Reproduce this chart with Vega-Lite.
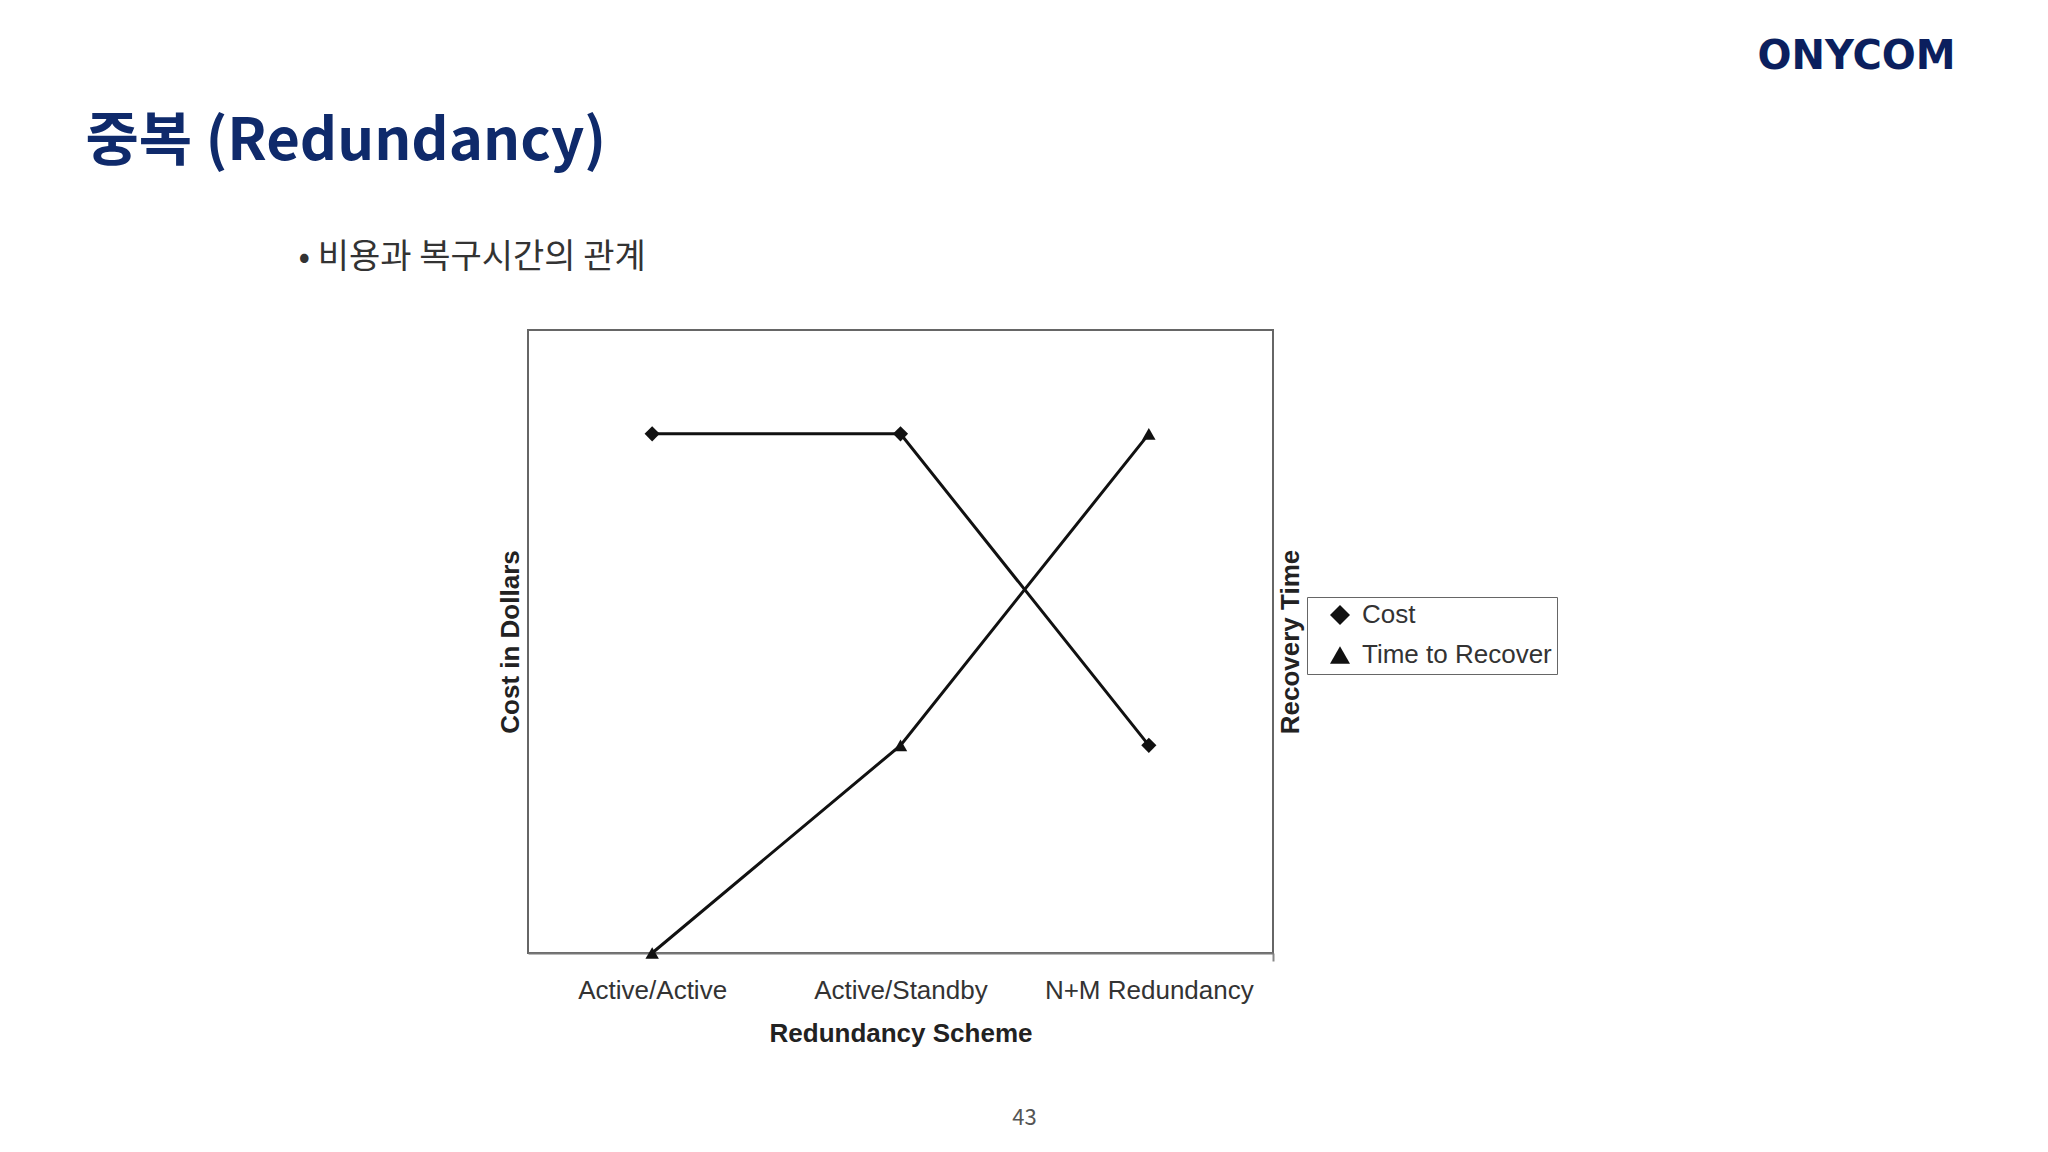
{
  "$schema": "https://vega.github.io/schema/vega-lite/v6.json",
  "width": 745,
  "height": 623,
  "autosize": {"type": "none"},
  "padding": {"left": 528, "top": 330, "right": 775, "bottom": 199},
  "background": "#ffffff",
  "config": {
    "view": {"stroke": "#666666", "strokeWidth": 2},
    "axis": {"grid": false},
    "legend": {
      "orient": "none",
      "legendX": 779,
      "legendY": 267,
      "labelFont": "Liberation Sans",
      "labelFontSize": 26,
      "labelColor": "#333333",
      "labelLimit": 400,
      "labelOffset": 9,
      "strokeColor": "#666666",
      "padding": 5,
      "symbolOffset": 15,
      "rowPadding": 11,
      "symbolSize": 400,
      "symbolStrokeWidth": 2.5,
      "symbolStrokeColor": "#111111",
      "symbolFillColor": "#111111",
      "symbolOpacity": 1
    }
  },
  "data": {
    "values": [
      {"scheme": "Active/Active", "series": "Cost", "value": 5},
      {"scheme": "Active/Standby", "series": "Cost", "value": 5},
      {"scheme": "N+M Redundancy", "series": "Cost", "value": 2},
      {"scheme": "Active/Active", "series": "Time to Recover", "value": 0},
      {"scheme": "Active/Standby", "series": "Time to Recover", "value": 2},
      {"scheme": "N+M Redundancy", "series": "Time to Recover", "value": 5}
    ]
  },
  "resolve": {"axis": {"x": "independent", "y": "independent"}},
  "layer": [
    {
      "transform": [{"filter": "datum.series === 'Cost'"}],
      "mark": {"type": "line", "color": "#111111", "strokeWidth": 3},
      "encoding": {
        "x": {
          "field": "scheme", "type": "nominal",
          "sort": ["Active/Active", "Active/Standby", "N+M Redundancy"],
          "scale": {"type": "band", "paddingInner": 0, "paddingOuter": 0},
          "axis": {
            "orient": "bottom",
            "title": "Redundancy Scheme",
            "labelAngle": 0,
            "labelLimit": 400,
            "labelFont": "Liberation Sans",
            "labelFontSize": 26,
            "labelColor": "#333333",
            "labelPadding": 16,
            "tickSize": 8,
            "tickColor": "#888888",
            "tickWidth": 2,
            "tickBand": "extent",
            "tickOpacity": {"condition": {"test": "datum.value === 'N+M Redundancy'", "value": 1}, "value": 0},
            "domainColor": "#777777",
            "domainWidth": 2,
            "titleFont": "Liberation Sans",
            "titleFontSize": 26,
            "titleFontWeight": "bold",
            "titleColor": "#222222",
            "titlePadding": 17
          }
        },
        "y": {
          "field": "value", "type": "quantitative",
          "scale": {"domain": [0, 6], "nice": false},
          "axis": {
            "orient": "left",
            "title": "Cost in Dollars",
            "labels": false, "ticks": false, "domain": false,
            "titleFont": "Liberation Sans",
            "titleFontSize": 26,
            "titleFontWeight": "bold",
            "titleColor": "#222222",
            "titlePadding": 5
          }
        }
      }
    },
    {
      "transform": [{"filter": "datum.series === 'Time to Recover'"}],
      "mark": {"type": "line", "color": "#111111", "strokeWidth": 3},
      "encoding": {
        "x": {
          "field": "scheme", "type": "nominal",
          "sort": ["Active/Active", "Active/Standby", "N+M Redundancy"],
          "axis": {
            "orient": "top",
            "labels": false, "ticks": false, "domain": false,
            "title": "ONYCOM",
            "titleX": 1328, "titleY": -274,
            "titleAlign": "center", "titleBaseline": "middle",
            "titleFont": "DejaVu Sans", "titleFontSize": 40, "titleFontWeight": "bold",
            "titleColor": "#0b1f5e"
          }
        },
        "y": {
          "field": "value", "type": "quantitative",
          "axis": {
            "orient": "right",
            "title": "Recovery Time",
            "labels": false, "ticks": false, "domain": false,
            "titleAngle": 270,
            "titleBaseline": "top",
            "titleFont": "Liberation Sans",
            "titleFontSize": 26,
            "titleFontWeight": "bold",
            "titleColor": "#222222",
            "titlePadding": 4
          }
        }
      }
    },
    {
      "transform": [{"filter": "datum.series === 'Cost'"}],
      "mark": {"type": "point", "filled": true, "color": "#111111", "opacity": 1, "size": 230},
      "encoding": {
        "x": {
          "field": "scheme", "type": "nominal",
          "sort": ["Active/Active", "Active/Standby", "N+M Redundancy"],
          "axis": {
            "orient": "bottom",
            "labels": false, "ticks": false, "domain": false,
            "title": "43",
            "titleX": 496, "titleY": 164,
            "titleAlign": "center", "titleBaseline": "middle",
            "titleFont": "Noto Sans CJK KR", "titleFontSize": 22, "titleFontWeight": "normal",
            "titleColor": "#555555"
          }
        },
        "y": {
          "field": "value", "type": "quantitative",
          "axis": {
            "orient": "left",
            "labels": false, "ticks": false, "domain": false,
            "title": "• 비용과 복구시간의 관계",
            "titleAngle": 0,
            "titleX": -230, "titleY": -73,
            "titleAlign": "left", "titleBaseline": "middle",
            "titleFont": "Noto Sans CJK KR", "titleFontSize": 34, "titleFontWeight": "normal",
            "titleColor": "#333333"
          }
        },
        "shape": {
          "field": "series", "type": "nominal",
          "scale": {"domain": ["Cost", "Time to Recover"], "range": ["diamond", "triangle-up"]},
          "legend": {
            "title": null,
            "encode": {
              "legend": {"strokeWidth": {"value": 2}},
              "symbols": {
                "size": {"value": 400},
                "strokeWidth": {"value": 2.5}
              }
            }
          }
        }
      }
    },
    {
      "transform": [{"filter": "datum.series === 'Time to Recover'"}],
      "mark": {"type": "point", "filled": true, "color": "#111111", "opacity": 1, "size": 180},
      "encoding": {
        "x": {
          "field": "scheme", "type": "nominal",
          "sort": ["Active/Active", "Active/Standby", "N+M Redundancy"],
          "axis": {
            "orient": "top",
            "labels": false, "ticks": false, "domain": false,
            "title": "중복 (Redundancy)",
            "titleX": -443, "titleY": -171,
            "titleAlign": "left", "titleBaseline": "alphabetic",
            "titleFont": "Noto Sans CJK KR", "titleFontSize": 58, "titleFontWeight": "bold",
            "titleColor": "#0f2a6b"
          }
        },
        "y": {
          "field": "value", "type": "quantitative",
          "axis": null
        },
        "shape": {
          "field": "series", "type": "nominal",
          "legend": {
            "title": null,
            "encode": {
              "legend": {"strokeWidth": {"value": 2}},
              "symbols": {
                "size": {"value": 400},
                "strokeWidth": {"value": 2.5}
              }
            }
          }
        }
      }
    }
  ]
}
